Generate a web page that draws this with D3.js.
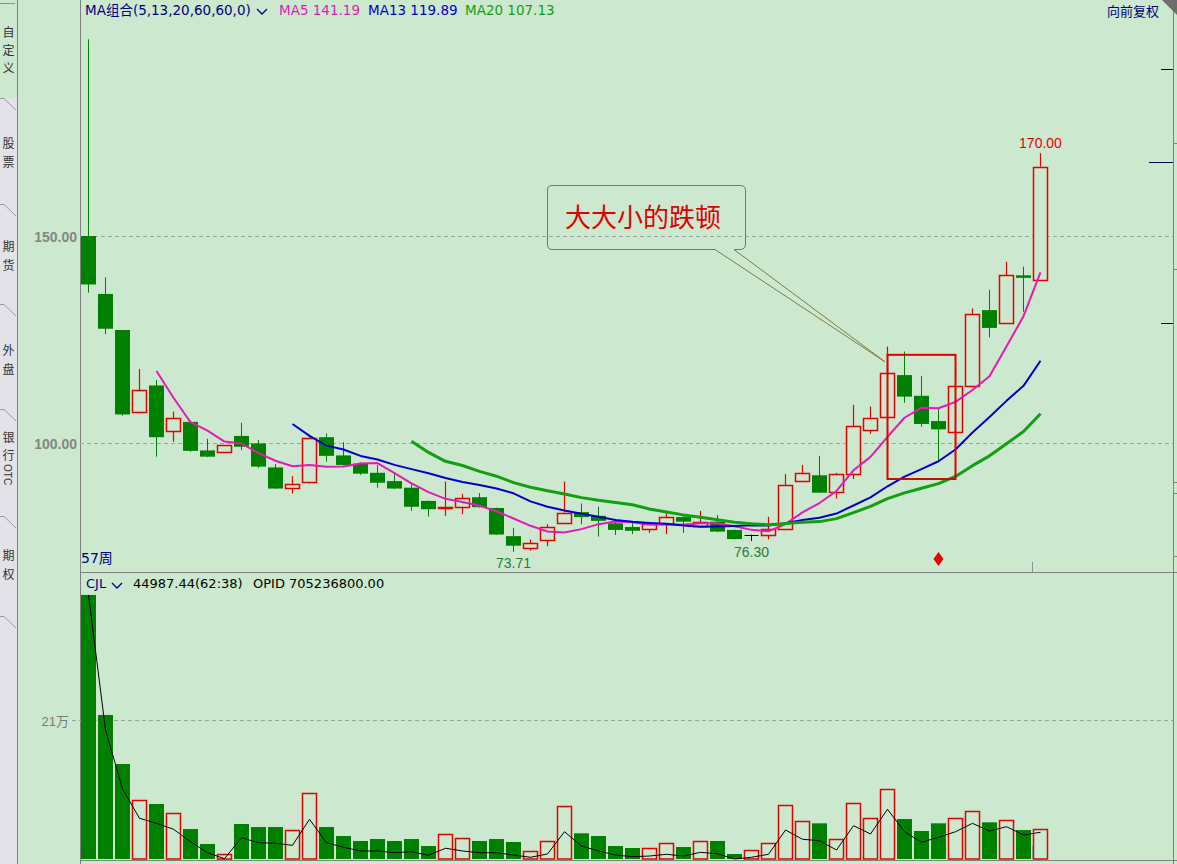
<!DOCTYPE html>
<html><head><meta charset="utf-8">
<script src="https://cdn.jsdelivr.net/npm/d3@7/dist/d3.min.js"></script>
<style>
html,body{margin:0;padding:0;background:#CCE8CF;overflow:hidden}
svg{display:block}
</style></head><body>
<svg id="c" width="1177" height="864"></svg>
<script>
// ---------- data (weekly bars, 57 weeks) ----------
const opens  = [150.0,136.0,127.3,107.4,113.9,102.8,105.1,98.2,97.9,101.7,99.9,94.1,89.0,90.4,101.4,97.0,95.0,92.8,90.8,89.2,86.0,84.4,84.5,86.9,84.3,77.5,74.6,76.5,80.8,83.3,82.4,80.6,79.7,79.2,80.4,82.1,80.0,81.0,79.0,77.8,77.7,79.2,90.8,92.2,88.1,92.5,103.1,106.2,116.4,111.4,105.3,102.6,113.6,132.1,128.9,140.5,139.4];
const highs  = [197.5,140.0,127.3,117.9,115.2,107.6,105.4,101.0,99.5,104.9,100.7,94.9,92.0,101.4,102.3,100.2,95.3,94.7,92.5,90.3,86.1,90.7,87.7,87.9,84.4,79.5,76.7,80.4,90.7,85.4,84.6,81.4,81.0,80.6,83.0,82.8,83.6,82.6,79.1,77.9,82.2,92.5,94.7,96.9,92.8,109.2,108.8,123.3,122.1,116.2,108.4,113.8,132.5,137.0,143.8,142.6,170.0];
const lows   = [136.3,126.3,106.6,107.4,96.7,100.3,97.9,96.6,97.7,98.3,94.0,88.9,87.8,90.2,95.5,94.6,92.3,89.2,88.9,83.6,82.2,82.4,82.8,84.4,77.8,73.71,74.0,75.1,80.7,80.4,77.4,77.8,78.0,78.3,78.0,78.3,79.9,78.5,76.7,76.30,76.7,79.0,90.6,88.0,86.6,91.3,102.2,106.0,109.7,103.9,95.9,102.5,113.5,125.5,128.8,131.7,139.3];
const closes = [138.3,127.6,106.9,112.7,101.4,106.0,98.1,96.7,99.5,99.1,94.3,89.0,90.0,101.1,96.9,94.7,92.6,90.4,89.0,84.6,84.0,84.6,86.6,84.5,77.9,75.2,75.8,79.7,83.2,82.1,81.2,79.0,78.8,80.4,82.1,81.0,80.9,78.6,76.8,77.8,79.2,89.8,92.7,88.0,92.4,104.1,106.0,116.8,111.2,104.6,103.3,113.8,131.1,127.8,140.5,139.9,166.7];
const volumes = [398900,217600,143500,89100,83100,69000,45300,22700,7100,52900,48300,48300,43400,99300,48300,34700,27200,30200,27200,30200,19600,37300,31300,27200,30200,25700,11600,26700,79600,38800,34700,19600,16600,16200,23700,18100,27600,27200,7600,13100,23700,81100,57000,53900,30200,84100,61500,105300,60400,42300,53900,61500,72100,55400,58500,43800,44987];
const opidLine = [398900,195000,106000,61500,53900,44900,26100,9500,500,32200,24600,23700,20700,60000,24600,17700,12100,12100,9500,11000,5600,16200,12100,9500,9500,6000,2600,7600,41200,19600,12100,6000,3500,4500,7100,4500,10100,8000,0,2600,7100,43800,29800,27600,13600,50300,37800,75100,41200,25200,32800,41200,53900,42300,48800,36300,40300];
const maPeriods = [5, 13, 20];
const maNames = ["MA5", "MA13", "MA20"];
const maHeaderValues = ["141.19", "119.89", "107.13"];
const priceTicks = [100, 150];
const priceTickLabels = ["100.00", "150.00"];
const volTicks = [210000];
const volTickLabels = ["21万"];
const labelHigh = {i: 56, text: "170.00"};
const labelLows = [{i: 25, text: "73.71"}, {i: 39, text: "76.30"}];
const signalIdx = 50;
const noteText = "大大小的跌顿";
const sideTabs = [["自","定","义"],["股","票"],["期","货"],["外","盘"],["银","行","OTC"],["期","权"]];

// ---------- styles ----------
const BG = "#CCE8CF", UP = "#E60000", DOWN = "#008000", GRID = "#9DA89D", AXIS = "#808080";
const maColors = ["#E619B4", "#0000CC", "#10A010"];
const maWidths = [2, 2, 3];
const LAT = "'DejaVu Sans','Noto Sans CJK SC',sans-serif";
const LIB = "'Liberation Sans','Noto Sans CJK SC',sans-serif";
const CJK = "'Noto Sans CJK SC',sans-serif";
const UPW = 1.5;

const svg = d3.select("#c");
const N = closes.length;
const left = 80, right = 1173;

const x = d3.scaleBand().domain(d3.range(N)).range([left, left + 17 * N]);
const cx = i => x(i) + x.bandwidth() / 2;
const y = d3.scaleLinear().domain([100, 150]).range([443, 236]);
const yv = d3.scaleLinear().domain([0, 210000]).range([859, 720]);

// ---------- frame ----------
svg.append("rect").attr("width", 1177).attr("height", 864).attr("fill", BG);
// sidebar
const sb = svg.append("g");
sb.append("rect").attr("x", 0).attr("y", 0).attr("width", 17).attr("height", 864).attr("fill", "#E2E2E8");
sb.append("rect").attr("x", 0).attr("y", 0).attr("width", 17).attr("height", 98).attr("fill", BG);
sb.append("line").attr("x1", 0).attr("x2", 15).attr("y1", 3.5).attr("y2", 3.5).attr("stroke", "#909090");
const tabBounds = [98, 204, 304, 409, 516, 616];
tabBounds.forEach(b => sb.append("path").attr("d", `M0,${b + 0.5}H4L16,${b + 12}`).attr("fill", "none").attr("stroke", "#9A9AA0"));
const tabCharY = [[32, 50, 68], [143, 162], [246, 265], [350, 369], [437, 455], [555, 574]];
sideTabs.forEach((t, k) => {
  t.forEach((ch, j) => {
    if (ch === "OTC") {
      sb.append("text").attr("transform", `translate(4,464) rotate(90)`).attr("font-family", LIB)
        .attr("font-size", 10).attr("fill", "#333").text(ch);
    } else {
      sb.append("text").attr("x", 8.5).attr("y", tabCharY[k][j] + 5).attr("text-anchor", "middle")
        .attr("font-family", CJK).attr("font-size", 12).attr("fill", "#333").text(ch);
    }
  });
});
sb.append("line").attr("x1", 17.5).attr("x2", 17.5).attr("y1", 0).attr("y2", 864).attr("stroke", AXIS);

// panel borders
svg.append("line").attr("x1", left + 0.5).attr("x2", left + 0.5).attr("y1", 0).attr("y2", 864).attr("stroke", AXIS);
svg.append("line").attr("x1", right + 0.5).attr("x2", right + 0.5).attr("y1", 0).attr("y2", 864).attr("stroke", AXIS);
svg.append("line").attr("x1", left).attr("x2", 1177).attr("y1", 572.5).attr("y2", 572.5).attr("stroke", AXIS);
svg.append("line").attr("x1", left).attr("x2", 1177).attr("y1", 860.5).attr("y2", 860.5).attr("stroke", AXIS);
svg.append("path").attr("d", "M1162,0H1177V15Z").attr("fill", "#6E6E6E");

// right side marks
[[69, 1161], [162, 1149], [323, 1161]].forEach(([yy, x1]) =>
  svg.append("line").attr("x1", x1).attr("x2", right).attr("y1", yy + 0.5).attr("y2", yy + 0.5).attr("stroke", "#000060"));
[143, 269, 482, 493, 556].forEach(yy =>
  svg.append("line").attr("x1", right).attr("x2", 1177).attr("y1", yy + 0.5).attr("y2", yy + 0.5).attr("stroke", AXIS));

// ---------- price grid ----------
priceTicks.forEach((t, k) => {
  const yy = Math.round(y(t)) + 0.5;
  svg.append("line").attr("x1", left).attr("x2", right).attr("y1", yy).attr("y2", yy)
    .attr("stroke", GRID).attr("stroke-dasharray", "4,3");
  svg.append("text").attr("x", 77).attr("y", yy + 5).attr("text-anchor", "end")
    .attr("font-family", LIB).attr("font-weight", "bold").attr("font-size", 14).attr("fill", "#858585").text(priceTickLabels[k]);
});

// ---------- candles ----------
const cg = svg.append("g");
d3.range(N).forEach(i => {
  const o = opens[i], c = closes[i], h = highs[i], l = lows[i];
  const xc = cx(i);
  const top = y(Math.max(o, c)), bot = y(Math.min(o, c));
  if (o === c) {
    cg.append("line").attr("x1", xc).attr("x2", xc).attr("y1", y(h)).attr("y2", y(l)).attr("stroke", "#000");
    cg.append("line").attr("x1", xc - 7).attr("x2", xc + 7).attr("y1", Math.round(top) + 0.5).attr("y2", Math.round(top) + 0.5).attr("stroke", "#000");
  } else if (c > o) {
    cg.append("line").attr("x1", xc).attr("x2", xc).attr("y1", y(h)).attr("y2", top).attr("stroke", UP).attr("stroke-width", 1.2);
    cg.append("line").attr("x1", xc).attr("x2", xc).attr("y1", bot).attr("y2", y(l)).attr("stroke", UP).attr("stroke-width", 1.2);
    cg.append("rect").attr("x", xc - 7).attr("y", Math.round(top) + 0.5).attr("width", 14)
      .attr("height", Math.max(0.5, Math.round(bot - top))).attr("fill", BG).attr("stroke", UP).attr("stroke-width", UPW);
  } else {
    cg.append("line").attr("x1", xc).attr("x2", xc).attr("y1", y(h)).attr("y2", y(l)).attr("stroke", DOWN);
    cg.append("rect").attr("x", xc - 7.5).attr("y", top).attr("width", 15)
      .attr("height", Math.max(1.5, bot - top)).attr("fill", DOWN);
  }
});

// ---------- moving averages of close ----------
const movingAvg = (arr, n) => arr.map((d, i) => i < n - 1 ? null : d3.mean(arr.slice(i - n + 1, i + 1)));
maPeriods.forEach((p, k) => {
  const vals = movingAvg(closes, p);
  const line = d3.line().defined(d => d != null).x((d, i) => cx(i)).y(d => y(d));
  svg.append("path").attr("d", line(vals)).attr("fill", "none").attr("stroke", maColors[k])
    .attr("stroke-width", maWidths[k]).attr("stroke-linejoin", "round");
});

// ---------- price labels ----------
svg.append("text").attr("x", cx(labelHigh.i)).attr("y", y(highs[labelHigh.i]) - 5).attr("text-anchor", "middle")
  .attr("font-family", LIB).attr("font-size", 14).attr("fill", UP).text(labelHigh.text);
labelLows.forEach(d => svg.append("text").attr("x", cx(d.i)).attr("y", y(lows[d.i]) + 16).attr("text-anchor", "middle")
  .attr("font-family", LIB).attr("font-size", 14).attr("fill", "#2A7A3A").text(d.text));

// signal diamond
svg.append("path").attr("d", d3.symbol().type(d3.symbolDiamond).size(55)())
  .attr("transform", `translate(${cx(signalIdx)},559) scale(1.25,1)`).attr("fill", UP);
svg.append("line").attr("x1", x(N - 1) + 0.5).attr("x2", x(N - 1) + 0.5).attr("y1", 562).attr("y2", 572).attr("stroke", "#909090");

// ---------- annotation ----------
const boxL = 547, boxR = 745, boxT = 185, boxB = 249, r = 5;
const tipX = cx(47) - 2.5, tipY = y(119.6);
const gapL = 715, gapR = 734;
svg.append("path").attr("d",
  `M${gapL},${boxB + 0.5}H${boxL + r}Q${boxL + 0.5},${boxB + 0.5} ${boxL + 0.5},${boxB - r}V${boxT + r}Q${boxL + 0.5},${boxT + 0.5} ${boxL + r},${boxT + 0.5}` +
  `H${boxR - r}Q${boxR + 0.5},${boxT + 0.5} ${boxR + 0.5},${boxT + r}V${boxB - r}Q${boxR + 0.5},${boxB + 0.5} ${boxR - r},${boxB + 0.5}H${gapR}L${tipX},${tipY}Z`)
  .attr("fill", "none").attr("stroke", "#7F7A40").attr("stroke-width", 1);
svg.append("text").attr("x", 565).attr("y", 227).attr("font-family", CJK).attr("font-size", 26)
  .attr("fill", "#E00000").text(noteText);
svg.append("rect").attr("x", cx(47)).attr("y", y(121.3)).attr("width", cx(51) - cx(47))
  .attr("height", y(91.3) - y(121.3)).attr("fill", "none").attr("stroke", "#E00000").attr("stroke-width", 2);

// ---------- header ----------
svg.append("text").attr("x", 85).attr("y", 15).attr("font-family", LAT).attr("font-size", 13.5).attr("fill", "#000080")
  .text("MA组合(" + maPeriods.join(",") + ",60,60,0)");
svg.append("path").attr("d", "M257,9L262,14L267,9").attr("fill", "none").attr("stroke", "#000080").attr("stroke-width", 1.3);
const hx = [279, 368, 465];
maNames.forEach((n, k) => svg.append("text").attr("x", hx[k]).attr("y", 15).attr("font-family", LAT)
  .attr("font-size", 13.5).attr("fill", maColors[k]).text(n + " " + maHeaderValues[k]));
svg.append("text").attr("x", 1159).attr("y", 16).attr("text-anchor", "end").attr("font-family", CJK)
  .attr("font-size", 13).attr("fill", "#000080").text("向前复权");
svg.append("text").attr("x", 81).attr("y", 563).attr("font-family", LAT).attr("font-size", 14)
  .attr("fill", "#000080").text(N + "周");

// ---------- volume panel ----------
volTicks.forEach((t, k) => {
  const yy = Math.round(yv(t)) + 0.5;
  svg.append("line").attr("x1", 72).attr("x2", right).attr("y1", yy).attr("y2", yy)
    .attr("stroke", GRID).attr("stroke-dasharray", "4,3");
  svg.append("text").attr("x", 69).attr("y", yy + 5).attr("text-anchor", "end").attr("font-family", LIB)
    .attr("font-size", 13).attr("fill", "#7A7A7A").text(volTickLabels[k]);
});
const vg = svg.append("g");
d3.range(N).forEach(i => {
  const xc = cx(i), top = yv(volumes[i]), base = yv(0);
  if (closes[i] >= opens[i]) {
    vg.append("rect").attr("x", xc - 7).attr("y", Math.round(top) + 0.5).attr("width", 14)
      .attr("height", Math.max(0.5, base - Math.round(top) - 0.5)).attr("fill", BG).attr("stroke", UP).attr("stroke-width", UPW);
  } else {
    vg.append("rect").attr("x", xc - 7.5).attr("y", top).attr("width", 15).attr("height", base - top).attr("fill", DOWN);
  }
});
svg.append("path").attr("d", d3.line().x((d, i) => cx(i)).y(d => yv(d))(opidLine))
  .attr("fill", "none").attr("stroke", "#000").attr("stroke-width", 1);
svg.append("line").attr("x1", x(N - 1) + 0.5).attr("x2", x(N - 1) + 0.5).attr("y1", 846).attr("y2", 859).attr("stroke", "#909090");

svg.append("text").attr("x", 86).attr("y", 588).attr("font-family", LAT).attr("font-size", 13).attr("fill", "#000080").text("CJL");
svg.append("path").attr("d", "M112,583L117,588L122,583").attr("fill", "none").attr("stroke", "#000080").attr("stroke-width", 1.3);
svg.append("text").attr("x", 133).attr("y", 588).attr("font-family", LAT).attr("font-size", 13).attr("fill", "#000").text("44987.44(62:38)");
svg.append("text").attr("x", 253).attr("y", 588).attr("font-family", LAT).attr("font-size", 13).attr("fill", "#000").text("OPID 705236800.00");
</script>
</body></html>
